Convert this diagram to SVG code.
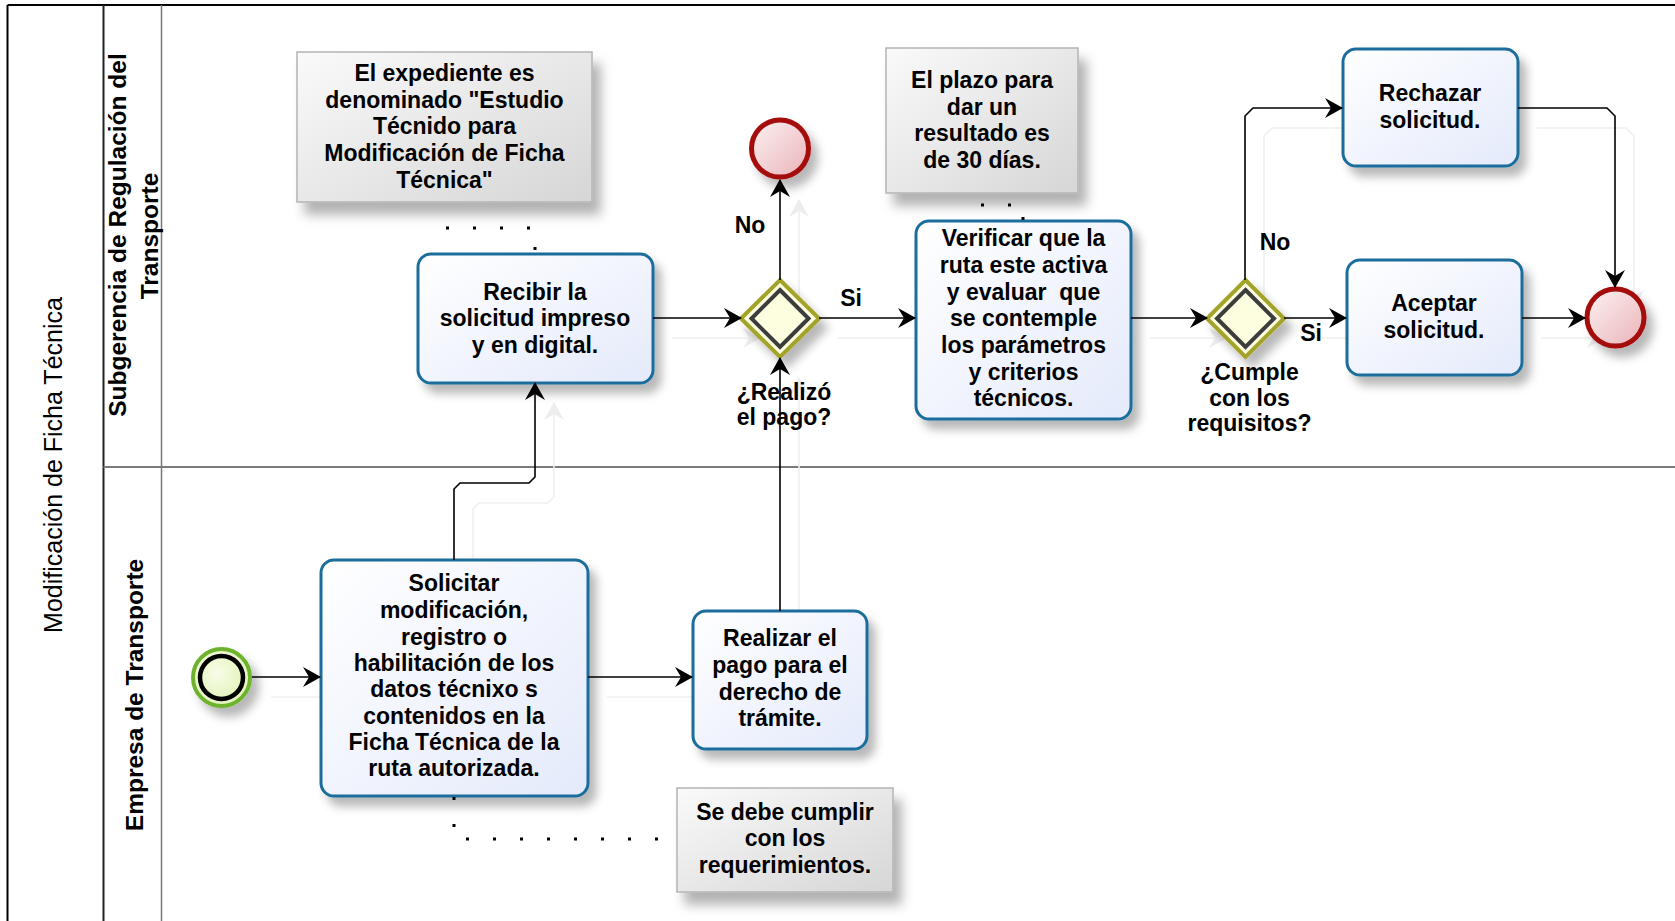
<svg xmlns="http://www.w3.org/2000/svg" xmlns:xlink="http://www.w3.org/1999/xlink" width="1675" height="921" viewBox="0 0 1675 921">
<style>
  text { font-family: "Liberation Sans", Arial, sans-serif; fill: #000; }
  .t { font-size: 23px; font-weight: bold; text-anchor: middle; dominant-baseline: central; }
  .lane { font-size: 24.5px; font-weight: bold; text-anchor: middle; dominant-baseline: central; }
  .pool { font-size: 25px; text-anchor: middle; dominant-baseline: central; }
  .task { fill: url(#taskGrad); stroke: #1b6d9c; stroke-width: 3; filter: url(#sh); }
  .note { fill: url(#noteGrad); stroke: #b4b4b4; stroke-width: 1.5; filter: url(#shNote); }
  .gwo { fill: #fdfde0; stroke: #a3a32a; stroke-width: 4; filter: url(#sh); }
  .gwi { fill: none; stroke: #3c3c3c; stroke-width: 4; }
  .end { fill: url(#endGrad); stroke: #a50d0d; stroke-width: 5; filter: url(#sh); }
  .assoc { fill: none; stroke: #000; stroke-width: 3; stroke-dasharray: 3 24; }
</style>
<defs>
  <linearGradient id="taskGrad" x1="0" y1="0" x2="1" y2="1">
    <stop offset="0" stop-color="#ffffff"/>
    <stop offset="1" stop-color="#e4eafb"/>
  </linearGradient>
  <linearGradient id="noteGrad" x1="0" y1="0" x2="1" y2="1">
    <stop offset="0" stop-color="#fafafa"/>
    <stop offset="1" stop-color="#d6d6d6"/>
  </linearGradient>
  <linearGradient id="endGrad" x1="0" y1="0" x2="1" y2="1">
    <stop offset="0" stop-color="#fdf2f3"/>
    <stop offset="1" stop-color="#e9b3b8"/>
  </linearGradient>
  <radialGradient id="startGrad" cx="0.4" cy="0.4" r="0.7">
    <stop offset="0" stop-color="#f8fde8"/>
    <stop offset="1" stop-color="#e2f2b8"/>
  </radialGradient>
  <filter id="sh" x="-30%" y="-30%" width="170%" height="170%">
    <feDropShadow dx="7" dy="9" stdDeviation="5" flood-color="#000" flood-opacity="0.28"/>
  </filter>
  <filter id="shNote" x="-30%" y="-30%" width="170%" height="170%">
    <feDropShadow dx="8" dy="12" stdDeviation="6" flood-color="#000" flood-opacity="0.3"/>
  </filter>
  <marker id="arr" viewBox="0 0 18 20" refX="17" refY="10" markerWidth="18" markerHeight="20" markerUnits="userSpaceOnUse" orient="auto">
    <path d="M0,0 L18,10 L0,20 L6,10 z" fill="#000"/>
  </marker>
  <marker id="arrGhost" viewBox="0 0 18 20" refX="17" refY="10" markerWidth="18" markerHeight="20" markerUnits="userSpaceOnUse" orient="auto">
    <path d="M0,0 L18,10 L0,20 L6,10 z" fill="#ededed"/>
  </marker>
  <g id="flowPaths">
    <path d="M252,677 H320"/>
    <path d="M588,677 H692"/>
    <path d="M454,560 V489 L460,483 H529 L535,477 V383"/>
    <path d="M780,611 V358"/>
    <path d="M653,318 H741"/>
    <path d="M780,280 V180"/>
    <path d="M819,318 H915"/>
    <path d="M1131,318 H1207"/>
    <path d="M1284,318 H1346"/>
    <path d="M1522,318 H1585"/>
    <path d="M1245,280 V116 L1253,108 H1342"/>
    <path d="M1518,108 H1607 L1615,116 V287"/>
  </g>
</defs>

<!-- pool and lanes -->
<g id="pool">
  <line x1="7.5" y1="5" x2="1675" y2="5" stroke="#000" stroke-width="2"/>
  <line x1="7.5" y1="5" x2="7.5" y2="921" stroke="#000" stroke-width="2"/>
  <line x1="103.5" y1="5" x2="103.5" y2="921" stroke="#222" stroke-width="2"/>
  <line x1="161.5" y1="5" x2="161.5" y2="921" stroke="#777" stroke-width="1.5"/>
  <line x1="103.5" y1="467" x2="1675" y2="467" stroke="#7a7a7a" stroke-width="2"/>
  <text class="pool" transform="translate(53,465) rotate(-90)">Modificación de Ficha Técnica</text>
  <text class="lane" transform="translate(117,235) rotate(-90)">Subgerencia de Regulación del</text>
  <text class="lane" transform="translate(149,236) rotate(-90)">Transporte</text>
  <text class="lane" transform="translate(134,695) rotate(-90)">Empresa de Transporte</text>
</g>

<!-- faint connector shadows -->
<g id="connector-shadows">
  <use xlink:href="#flowPaths" transform="translate(19,20)" fill="none" stroke="#efefef" stroke-width="1.6" marker-end="url(#arrGhost)"/>
</g>

<!-- annotations -->
<g id="note1">
  <rect class="note" x="297" y="52" width="295" height="150"/>
  <text class="t" x="444.5" y="73">El expediente es</text>
  <text class="t" x="444.5" y="100">denominado "Estudio</text>
  <text class="t" x="444.5" y="126">Técnido para</text>
  <text class="t" x="444.5" y="153">Modificación de Ficha</text>
  <text class="t" x="444.5" y="180">Técnica"</text>
</g>
<g id="note2">
  <rect class="note" x="886" y="48" width="192" height="145"/>
  <text class="t" x="982" y="80">El plazo para</text>
  <text class="t" x="982" y="107">dar un</text>
  <text class="t" x="982" y="133">resultado es</text>
  <text class="t" x="982" y="160">de 30 días.</text>
</g>
<g id="note3">
  <rect class="note" x="677" y="788" width="216" height="104"/>
  <text class="t" x="785" y="812">Se debe cumplir</text>
  <text class="t" x="785" y="838">con los</text>
  <text class="t" x="785" y="865">requerimientos.</text>
</g>

<!-- tasks -->
<g id="recibir">
  <rect class="task" x="418" y="254" width="235" height="129" rx="13"/>
  <text class="t" x="535" y="292">Recibir la</text>
  <text class="t" x="535" y="318">solicitud impreso</text>
  <text class="t" x="535" y="345">y en digital.</text>
</g>
<g id="verificar">
  <rect class="task" x="916" y="221" width="215" height="198" rx="13"/>
  <text class="t" x="1023.5" y="238">Verificar que la</text>
  <text class="t" x="1023.5" y="265">ruta este activa</text>
  <text class="t" x="1023.5" y="292" xml:space="preserve">y evaluar  que</text>
  <text class="t" x="1023.5" y="318">se contemple</text>
  <text class="t" x="1023.5" y="345">los parámetros</text>
  <text class="t" x="1023.5" y="372">y criterios</text>
  <text class="t" x="1023.5" y="398">técnicos.</text>
</g>
<g id="rechazar">
  <rect class="task" x="1343" y="49" width="175" height="117" rx="13"/>
  <text class="t" x="1430" y="93">Rechazar</text>
  <text class="t" x="1430" y="120">solicitud.</text>
</g>
<g id="aceptar">
  <rect class="task" x="1347" y="260" width="175" height="115" rx="13"/>
  <text class="t" x="1434" y="303">Aceptar</text>
  <text class="t" x="1434" y="330">solicitud.</text>
</g>
<g id="solicitar">
  <rect class="task" x="321" y="560" width="267" height="236" rx="13"/>
  <text class="t" x="454" y="583">Solicitar</text>
  <text class="t" x="454" y="610">modificación,</text>
  <text class="t" x="454" y="637">registro o</text>
  <text class="t" x="454" y="663">habilitación de los</text>
  <text class="t" x="454" y="689">datos técnixo s</text>
  <text class="t" x="454" y="716">contenidos en la</text>
  <text class="t" x="454" y="742">Ficha Técnica de la</text>
  <text class="t" x="454" y="768">ruta autorizada.</text>
</g>
<g id="realizar">
  <rect class="task" x="693" y="611" width="174" height="138" rx="13"/>
  <text class="t" x="780" y="638">Realizar el</text>
  <text class="t" x="780" y="665">pago para el</text>
  <text class="t" x="780" y="692">derecho de</text>
  <text class="t" x="780" y="718">trámite.</text>
</g>

<!-- events -->
<g id="start">
  <circle cx="221.5" cy="677.5" r="28.5" fill="url(#startGrad)" stroke="#6eb32e" stroke-width="4" filter="url(#sh)"/>
  <circle cx="221.5" cy="677.5" r="21.5" fill="url(#startGrad)" stroke="#000" stroke-width="4.5"/>
</g>
<g id="end1">
  <circle class="end" cx="780" cy="148.5" r="28.5"/>
</g>
<g id="end2">
  <circle class="end" cx="1615.5" cy="317.5" r="28.5"/>
</g>

<!-- gateways -->
<g id="gateway1">
  <polygon class="gwo" points="780,280 819,318.5 780,357 741,318.5"/>
  <polygon class="gwi" points="780,290 808.5,318.5 780,347 751.5,318.5"/>
  <text class="t" x="784" y="392">¿Realizó</text>
  <text class="t" x="784" y="417">el pago?</text>
</g>
<g id="gateway2">
  <polygon class="gwo" points="1245.5,280 1284,318.5 1245.5,357 1207,318.5"/>
  <polygon class="gwi" points="1245.5,290 1274,318.5 1245.5,347 1217,318.5"/>
  <text class="t" x="1249.5" y="372">¿Cumple</text>
  <text class="t" x="1249.5" y="398">con los</text>
  <text class="t" x="1249.5" y="423">requisitos?</text>
</g>

<!-- connectors -->
<g id="connectors">
  <use xlink:href="#flowPaths" fill="none" stroke="#000" stroke-width="1.6" marker-end="url(#arr)"/>
  <path class="assoc" d="M446,228 H535 V253"/>
  <path class="assoc" d="M981,205 H1023 V221"/>
  <path class="assoc" d="M454,797 V839 H677"/>
  <text class="t" x="750" y="225">No</text>
  <text class="t" x="851" y="298">Si</text>
  <text class="t" x="1275" y="242">No</text>
  <text class="t" x="1311" y="333">Si</text>
</g>
</svg>
